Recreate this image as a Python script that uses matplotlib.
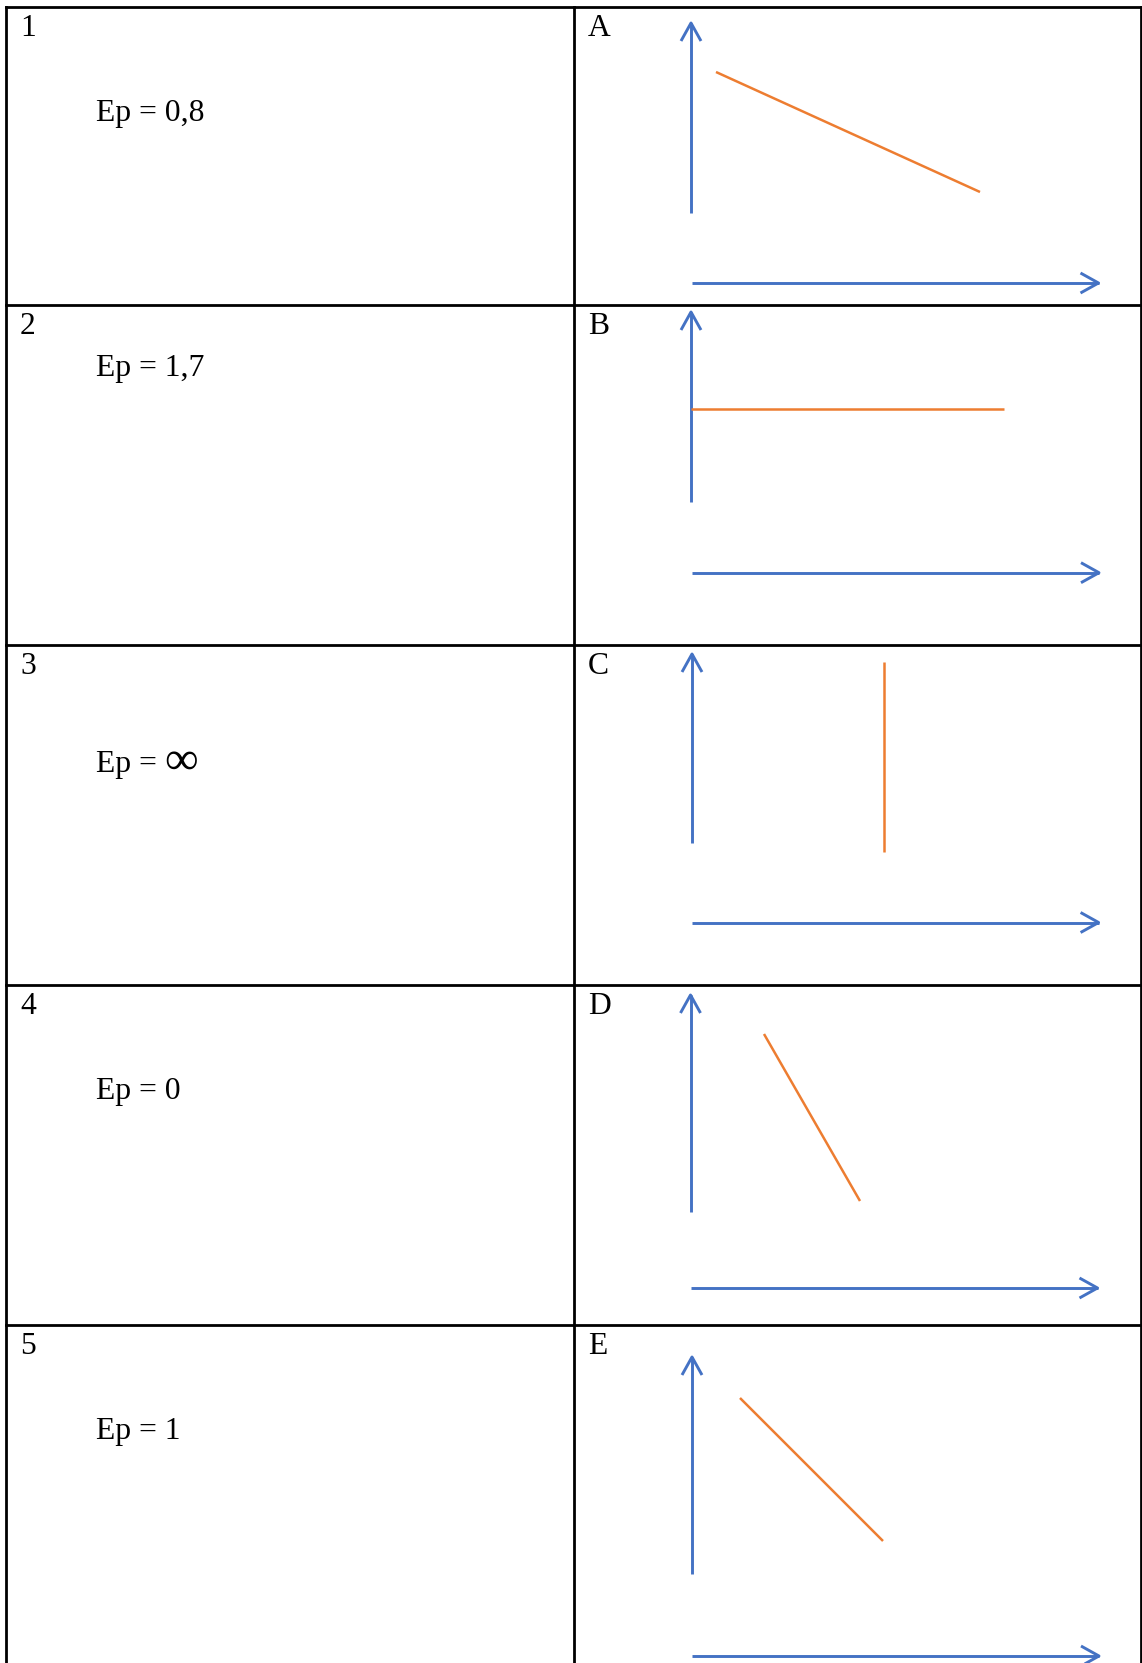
import matplotlib
matplotlib.use("Agg")
import matplotlib.pyplot as plt
import numpy as np

W, H = 1142, 1663

# grille du tableau (positions en pixels)
col_x = [5.5, 573.7, 1140.5]
row_y = [7, 305, 644.5, 985, 1324.7]

numbers = ["1", "2", "3", "4", "5"]
letters = ["A", "B", "C", "D", "E"]
ep_values = ["0,8", "1,7", "∞", "0", "1"]
ep_baselines = [120.5, 376, 772, 1098.5, 1439]

# axes fléchés de chaque petit graphe
y_axis_x = [691, 691, 692, 690.5, 692]
y_axis_top = [23, 312, 654, 995, 1357]
y_axis_bottom = [212.5, 502, 843, 1212, 1574]
x_axis_y = [283, 572.7, 922.5, 1288, 1656]
x_axis_start = [691.5, 692, 692, 690.5, 692]
x_axis_end = [1098.5, 1099, 1098.6, 1097.5, 1099]

# courbes orange (x0, x1) / (y0, y1)
curve_x = [(716, 980), (691, 1004), (884.4, 884.4), (764, 860), (740, 883)]
curve_y = [(72, 192), (409, 409), (662, 851.5), (1034, 1201), (1398, 1541)]

BLUE = "#4472C4"
ORANGE = "#ED7D31"
FONT = ["Liberation Serif", "DejaVu Serif"]
FS = 22.8


def arrow(ax, x0, y0, x1, y1, color=BLUE, lw=2.1, hl=18, hw=10):
    ax.plot([x0, x1], [y0, y1], color=color, lw=lw, solid_capstyle="butt")
    d = np.array([x1 - x0, y1 - y0], float)
    d /= np.hypot(*d)
    n = np.array([-d[1], d[0]])
    tip = np.array([x1, y1])
    base = tip - d * hl
    wing = np.array([base + n * hw, tip, base - n * hw])
    ax.plot(wing[:, 0], wing[:, 1], color=color, lw=lw,
            solid_joinstyle="round", solid_capstyle="butt")


fig = plt.figure(figsize=(W / 100, H / 100), dpi=100)
ax = fig.add_axes([0, 0, 1, 1])
ax.set_xlim(0, W)
ax.set_ylim(H, 0)
ax.axis("off")

# bordures
for y in row_y:
    ax.plot([col_x[0], col_x[-1]], [y, y], color="black", lw=2.0, solid_capstyle="projecting")
for x in col_x:
    ax.plot([x, x], [row_y[0], H], color="black", lw=2.0, solid_capstyle="projecting")

ep_texts = []
for i in range(len(numbers)):
    top = row_y[i]
    ax.text(col_x[0] + 14.5, top + 29.5, numbers[i], fontsize=FS, family=FONT, va="baseline")
    ax.text(col_x[1] + 14, top + 29.5, letters[i], fontsize=FS, family=FONT, va="baseline")

    if ep_values[i] == "∞":
        t = ax.text(96, ep_baselines[i], "Ep =", fontsize=FS, family=FONT, va="baseline")
        ep_texts.append((t, i))
    else:
        ax.text(96, ep_baselines[i], "Ep = " + ep_values[i], fontsize=FS, family=FONT, va="baseline")

    # axes
    arrow(ax, y_axis_x[i], y_axis_bottom[i], y_axis_x[i], y_axis_top[i])
    arrow(ax, x_axis_start[i], x_axis_y[i], x_axis_end[i], x_axis_y[i])

    # courbe
    ax.plot(curve_x[i], curve_y[i], color=ORANGE, lw=1.8, solid_capstyle="butt")

# symbole infini plus grand, placé après "Ep ="
fig.canvas.draw()
renderer = fig.canvas.get_renderer()
for t, i in ep_texts:
    bb = t.get_window_extent(renderer)
    ax.text(bb.x1 + 7, ep_baselines[i] + 2, ep_values[i], fontsize=34, family=FONT, va="baseline")

fig.savefig("out.png", dpi=100)
plt.close(fig)
